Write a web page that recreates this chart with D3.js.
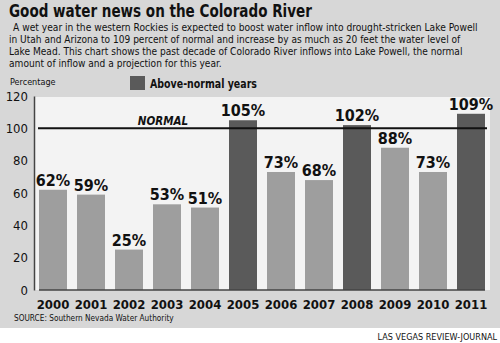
<!DOCTYPE html>
<html><head><meta charset="utf-8">
<script src="https://cdn.jsdelivr.net/npm/d3@7"></script>
<style>
body{margin:0;background:#fff;}
svg{display:block;}
text{font-family:"DejaVu Sans Condensed","Liberation Sans Narrow",sans-serif;fill:#111;}
</style></head>
<body>
<script>
const years = ["2000","2001","2002","2003","2004","2005","2006","2007","2008","2009","2010","2011"];
const inflowPct = [62,59,25,53,51,105,73,68,102,88,73,109];
const normalLevel = 100;
const yTicks = [0,20,40,60,80,100,120];
const title = "Good water news on the Colorado River";
const intro = [
  "A wet year in the western Rockies is expected to boost water inflow into drought-stricken Lake Powell",
  "in Utah and Arizona to 109 percent of normal and increase by as much as 20 feet the water level of",
  "Lake Mead. This chart shows the past decade of Colorado River inflows into Lake Powell, the normal",
  "amount of inflow and a projection for this year."
];

const W = 500, H = 343;
const svg = d3.select("body").append("svg").attr("width", W).attr("height", H);

// helper: place text and squeeze horizontally to a target width
function fitText(t, x, y, width, attrs) {
  const el = svg.append("text").attr("x",0).attr("y",0);
  Object.entries(attrs).forEach(([k,v])=>el.attr(k,v));
  el.text(t);
  const natural = el.node().getComputedTextLength();
  const s = natural > 0 ? width / natural : 1;
  el.attr("transform", `translate(${x},${y}) scale(${s},1)`);
  return el;
}

// panel
svg.append("rect").attr("x",0).attr("y",0).attr("width",W).attr("height",328).attr("fill","#d7d7d7");

// title
fitText(title, 9, 16.8, 303, {"font-size":17, "font-weight":"bold"});

const introX = [13, 9, 9, 9];
const introW = [465, 452, 454, 213];
intro.forEach((t,i)=>{
  fitText(t, introX[i], 30.5 + i*12.3, introW[i], {"font-size":10.5});
});

svg.append("text").attr("x",10).attr("y",85).attr("font-size",9).text("Percentage");
svg.append("rect").attr("x",130).attr("y",76).attr("width",15).attr("height",14).attr("fill","#5a5a5a");
fitText("Above-normal years", 150, 88, 107, {"font-size":13, "font-weight":"bold"});

// plot
const plotL = 34, plotR = 490, plotT = 97, plotB = 290;
svg.append("rect").attr("x",plotL).attr("y",plotT).attr("width",plotR-plotL).attr("height",plotB-plotT).attr("fill","#f3f3f3");

const y = d3.scaleLinear().domain([0,120]).range([290,96]);
const x = d3.scaleBand().domain(years).range([plotL, plotR]).paddingInner(10/38).paddingOuter(5/38);

// y axis
const yAxis = svg.append("g").attr("transform",`translate(${plotL},0)`)
  .call(d3.axisLeft(y).tickValues(yTicks).tickSize(0).tickPadding(6));
yAxis.select(".domain").attr("stroke","#444").attr("stroke-width",1.5);
yAxis.selectAll("text").attr("font-size",13).attr("fill","#111")
  .attr("font-family","'DejaVu Sans Condensed',sans-serif");

// bars
svg.selectAll("rect.bar").data(years).join("rect").attr("class","bar")
  .attr("x",d=>x(d)).attr("width",x.bandwidth())
  .attr("y",(d,i)=>y(inflowPct[i])).attr("height",(d,i)=>y(0)-y(inflowPct[i]))
  .attr("fill",(d,i)=>inflowPct[i] > normalLevel ? "#5a5a5a" : "#9e9e9e");

// value labels
svg.selectAll("text.val").data(years).join("text").attr("class","val")
  .attr("x",d=>x(d)+x.bandwidth()/2).attr("y",(d,i)=>y(inflowPct[i])-4)
  .attr("text-anchor","middle").attr("font-size",16).attr("font-weight","bold")
  .text((d,i)=>inflowPct[i]+"%");

// normal line
svg.append("line").attr("x1",38).attr("x2",487).attr("y1",y(normalLevel)).attr("y2",y(normalLevel))
  .attr("stroke","#111").attr("stroke-width",2);
svg.append("text").attr("x",163).attr("y",y(normalLevel)-3).attr("text-anchor","middle")
  .attr("font-size",11.5).attr("font-weight","bold").attr("font-style","italic")
  .attr("font-family","'DejaVu Sans','Liberation Sans',sans-serif").text("NORMAL");

// x axis
const xAxis = svg.append("g").attr("transform",`translate(0,${y(0)})`)
  .call(d3.axisBottom(x).tickSize(0).tickPadding(10));
xAxis.select(".domain").attr("d",`M39,0H485`).attr("stroke","#444").attr("stroke-width",1.5);
xAxis.selectAll("text").attr("font-size",13).attr("font-weight","bold").attr("fill","#111")
  .attr("font-family","'DejaVu Sans Condensed',sans-serif");

fitText("SOURCE: Southern Nevada Water Authority", 14, 321, 160, {"font-size":9.5});
svg.append("text").attr("x",497).attr("y",340).attr("text-anchor","end").attr("font-size",9)
  .text("LAS VEGAS REVIEW-JOURNAL");
</script>
</body></html>
